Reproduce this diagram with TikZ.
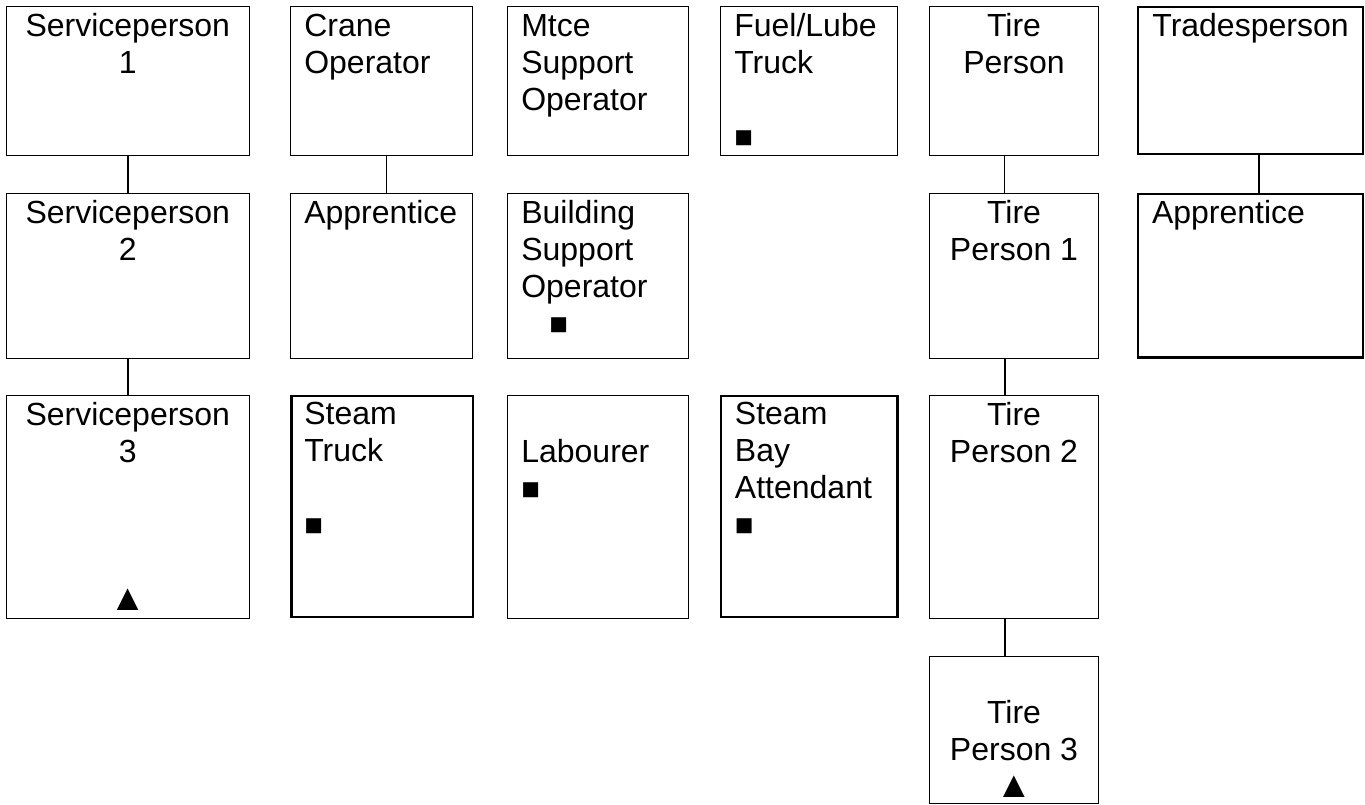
\documentclass[tikz,border=0pt]{standalone}
\usepackage{fontspec}
\setmainfont{Liberation Sans}
\usetikzlibrary{calc}
\tikzset{
  box/.style={draw=black, line width=1pt, inner sep=0pt, outer sep=0pt, fill=white},
  thickbox/.style={box, line width=2.4pt},
  lbl/.style={inner sep=0pt, outer sep=0pt, font=\fontsize{32}{37}\selectfont},
  thinlink/.style={draw=black, line width=1pt},
  boldlink/.style={draw=black, line width=2pt}
}
\newcommand{\sq}{{\fontsize{31}{37}\selectfont ■}}
\newcommand{\tri}{{\fontsize{37}{37}\selectfont ▲}}
\begin{document}
\begin{tikzpicture}[x=1pt, y=-1pt]
\useasboundingbox (0,0) rectangle (1365,805);
% column 1
\node[box, minimum width=243pt, minimum height=149pt] (c1r1) at (127.8,80.8) {};
\node[box, minimum width=243pt, minimum height=165pt] (c1r2) at (127.8,275.8) {};
\node[box, minimum width=243pt, minimum height=223pt] (c1r3) at (127.8,506.5) {};
% column 2
\node[box, minimum width=182.4pt, minimum height=149pt] (c2r1) at (381.5,80.8) {};
\node[box, minimum width=182.4pt, minimum height=165pt] (c2r2) at (381.5,275.8) {};
\node[thickbox, minimum width=181.4pt, minimum height=221.3pt] (c2r3) at (382,506.6) {};
% column 3
\node[box, minimum width=181.4pt, minimum height=149pt] (c3r1) at (598,80.8) {};
\node[box, minimum width=181.4pt, minimum height=165pt] (c3r2) at (598,275.8) {};
\node[box, minimum width=181.4pt, minimum height=223pt] (c3r3) at (598,506.5) {};
% column 4
\node[box, minimum width=177.4pt, minimum height=149pt] (c4r1) at (809,80.8) {};
\node[thickbox, minimum width=176.7pt, minimum height=221.3pt] (c4r3) at (809.3,506.6) {};
% column 5
\node[box, minimum width=169.4pt, minimum height=149pt] (c5r1) at (1014,80.8) {};
\node[box, minimum width=169.4pt, minimum height=165pt] (c5r2) at (1014,275.8) {};
\node[box, minimum width=169.4pt, minimum height=223pt] (c5r3) at (1014,506.5) {};
\node[box, minimum width=169.4pt, minimum height=147pt] (c5r4) at (1014,730.3) {};
% column 6
\node[thickbox, minimum width=225pt, minimum height=147pt] (c6r1) at (1250.5,80.8) {};
\node[thickbox, minimum width=225pt, minimum height=163pt] (c6r2) at (1250.5,275.8) {};

% connectors
\draw[boldlink] (c1r1.south) -- (c1r2.north);
\draw[boldlink] (c1r2.south) -- (c1r3.north);
\draw[thinlink] ([xshift=4.8pt]c2r1.south) -- ([xshift=4.8pt]c2r2.north);
\draw[thinlink] ([xshift=-9.7pt]c5r1.south) -- ([xshift=-9.7pt]c5r2.north);
\draw[boldlink] ([xshift=-9pt]c5r2.south) -- ([xshift=-9pt]c5r3.north);
\draw[boldlink] ([xshift=-9pt]c5r3.south) -- ([xshift=-9pt]c5r4.north);
\draw[line width=2.4pt] ([xshift=8.5pt]c6r1.south) -- ([xshift=8.5pt]c6r2.north);

% texts
\node[lbl, anchor=base] (t11) at ($(c1r1.north)+(0,30)$) {\parbox[t]{240pt}{\centering Serviceperson\\1}};
\node[lbl, anchor=base] (t12) at ($(c1r2.north)+(0,30)$) {\parbox[t]{240pt}{\centering Serviceperson\\2}};
\node[lbl, anchor=base] (t13) at ($(c1r3.north)+(0,30)$) {\parbox[t]{240pt}{\centering Serviceperson\\3\\[111pt]\tri}};

\node[lbl, anchor=base west] (t21) at ($(c2r1.north west)+(14,30)$) {\parbox[t]{165pt}{\raggedright Crane\\Operator}};
\node[lbl, anchor=base west] (t22) at ($(c2r2.north west)+(14,30)$) {\parbox[t]{165pt}{\raggedright Apprentice}};
\node[lbl, anchor=base west] (t23) at ($(c2r3.north west)+(13,29)$) {\parbox[t]{165pt}{\raggedright Steam\\Truck\\[37pt]\sq}};

\node[lbl, anchor=base west] (t31) at ($(c3r1.north west)+(14,30)$) {\parbox[t]{165pt}{\raggedright Mtce\\Support\\Operator}};
\node[lbl, anchor=base west] (t32) at ($(c3r2.north west)+(14,30)$) {\parbox[t]{165pt}{\raggedright Building\\Support\\Operator\\\hspace*{28pt}\sq}};
\node[lbl, anchor=base west] (t33) at ($(c3r3.north west)+(14,67)$) {\parbox[t]{165pt}{\raggedright Labourer\\\sq}};

\node[lbl, anchor=base west] (t41) at ($(c4r1.north west)+(14,30)$) {\parbox[t]{165pt}{\raggedright Fuel/Lube\\Truck\\[37pt]\sq}};
\node[lbl, anchor=base west] (t43) at ($(c4r3.north west)+(14,29)$) {\parbox[t]{165pt}{\raggedright Steam\\Bay\\Attendant\\\sq}};

\node[lbl, anchor=base] (t51) at ($(c5r1.north)+(0,30)$) {\parbox[t]{168pt}{\centering Tire\\Person}};
\node[lbl, anchor=base] (t52) at ($(c5r2.north)+(0,30)$) {\parbox[t]{168pt}{\centering Tire\\Person 1}};
\node[lbl, anchor=base] (t53) at ($(c5r3.north)+(0,30)$) {\parbox[t]{168pt}{\centering Tire\\Person 2}};
\node[lbl, anchor=base] (t54) at ($(c5r4.north)+(0,67)$) {\parbox[t]{168pt}{\centering Tire\\Person 3\\\tri}};

\node[lbl, anchor=base] (t61) at ($(c6r1.north)+(0,29)$) {\parbox[t]{224pt}{\centering Tradesperson}};
\node[lbl, anchor=base west] (t62) at ($(c6r2.north west)+(14,29)$) {\parbox[t]{200pt}{\raggedright Apprentice}};
\end{tikzpicture}
\end{document}
